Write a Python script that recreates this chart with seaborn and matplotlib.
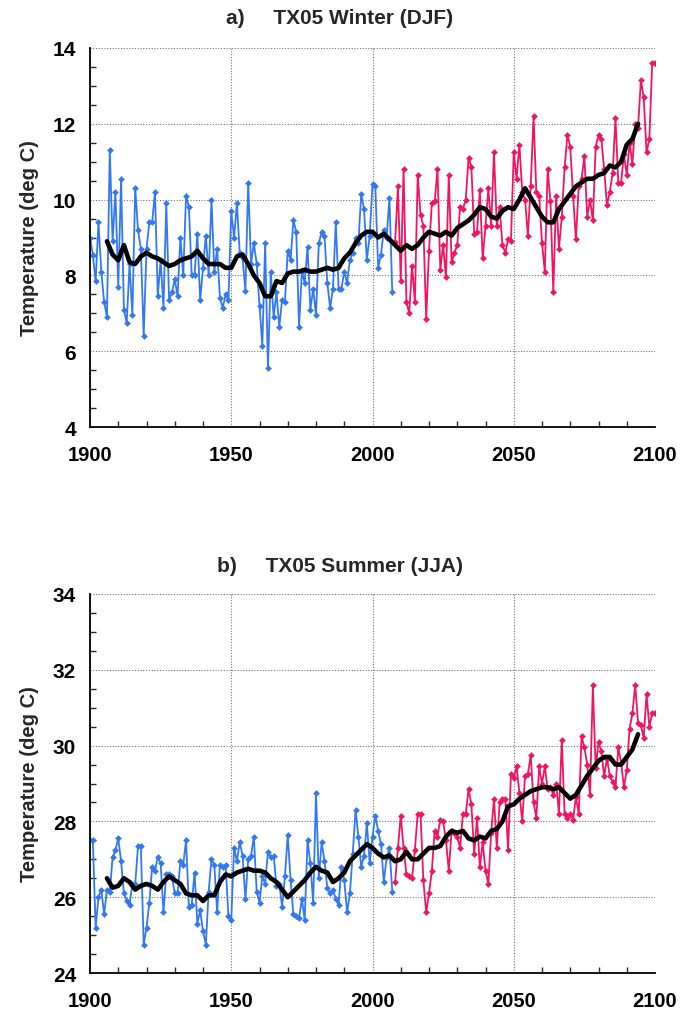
import numpy as np
import pandas as pd
import matplotlib
matplotlib.use("Agg")
import matplotlib.pyplot as plt
import seaborn as sns
from matplotlib.ticker import MultipleLocator

# years
hist_years = np.arange(1900, 2008)
proj_years = np.arange(2008, 2101)
smooth_years = np.arange(1906, 2095, 2)

# a) TX05 winter (DJF), deg C
winter_hist = [
    9.0, 8.55, 7.85, 9.4, 8.1, 7.3, 6.9, 11.3, 8.9, 10.2,
    7.7, 10.55, 7.1, 6.75, 8.3, 6.95, 10.3, 9.2, 8.7, 6.4,
    8.7, 9.4, 9.4, 10.2, 7.45, 8.4, 7.15, 9.9, 7.35, 7.55,
    7.9, 7.45, 9.0, 8.0, 10.1, 9.8, 8.0, 8.0, 9.1, 7.35,
    8.2, 9.05, 8.0, 10.0, 8.1, 8.7, 7.4, 7.15, 7.5, 7.35,
    9.7, 9.0, 9.9, 8.6, 8.45, 7.6, 10.45, 8.3, 8.85, 8.3,
    7.2, 6.15, 8.85, 5.55, 8.1, 6.9, 7.55, 6.65, 7.35, 7.3,
    8.65, 8.4, 9.45, 9.15, 6.65, 8.1, 7.8, 8.75, 7.1, 7.65,
    6.95, 8.85, 9.15, 9.05, 7.8, 7.15, 7.65, 9.4, 7.65, 7.65,
    8.1, 7.8, 8.4, 8.6, 9.0, 8.85, 10.15, 9.75, 8.4, 9.05,
    10.4, 10.35, 8.2, 8.55, 9.2, 9.0, 10.05, 7.55,
]
winter_proj = [
    8.87, 10.35, 7.85, 10.8, 7.3, 7.0, 8.25, 7.3, 10.65, 9.6,
    9.3, 6.85, 8.65, 9.9, 9.95, 10.8, 8.15, 8.8, 7.95, 10.65,
    8.35, 8.6, 8.8, 9.8, 9.75, 10.0, 11.1,
    10.85, 9.1, 9.15, 10.25, 8.45, 9.3, 10.3, 9.3, 11.25, 9.3,
    9.8, 8.8, 8.6, 8.95, 8.9, 11.25, 10.55, 11.45, 10.2, 10.0,
    9.05, 10.35, 12.2, 10.2, 10.1, 8.85, 8.1, 10.8, 9.95, 7.55,
    10.1, 8.7, 9.55, 10.85, 11.7, 11.4, 10.1, 8.95, 10.35, 10.55,
    11.15, 9.55, 10.0, 9.45, 11.4, 11.7, 11.6, 10.8, 9.85, 10.2,
    10.7, 12.15, 10.45, 10.45, 11.2, 10.65, 11.5, 10.95, 12.0, 11.9,
    13.15, 12.7, 11.25, 11.6, 13.6, 13.6,
]
winter_smooth = [
    8.9, 8.55, 8.4, 8.8, 8.35, 8.3, 8.5, 8.6, 8.5, 8.45,
    8.35, 8.25, 8.3, 8.4, 8.45, 8.5, 8.65, 8.45, 8.3, 8.3,
    8.3, 8.2, 8.2, 8.5, 8.55, 8.3, 8.0, 7.8, 7.45, 7.45,
    7.85, 7.8, 8.05, 8.1, 8.1, 8.15, 8.1, 8.1, 8.15, 8.2,
    8.15, 8.2, 8.45, 8.6, 8.85, 9.05, 9.15, 9.15, 9.0, 9.1,
    8.95, 8.8, 8.65, 8.8, 8.7, 8.8, 9.0, 9.15, 9.1, 9.05,
    9.15, 9.05, 9.25, 9.35, 9.45, 9.6, 9.8, 9.75, 9.55, 9.5,
    9.7, 9.8, 9.75, 10.0, 10.3, 10.05, 9.8, 9.55, 9.4, 9.4,
    9.75, 9.95, 10.15, 10.35, 10.45, 10.55, 10.55, 10.65, 10.7, 10.9,
    10.85, 11.0, 11.45, 11.6, 12.0,
]

# b) TX05 summer (JJA), deg C
summer_hist = [
    27.5, 27.5, 25.2, 26.0, 26.2, 25.55, 26.2, 26.15, 27.05, 27.25,
    27.55, 26.95, 26.1, 25.9, 25.8, 26.35, 26.35, 27.35, 27.35, 24.75,
    25.2, 25.85, 26.8, 26.7, 27.05, 26.9, 25.6, 26.6, 26.6, 26.55,
    26.1, 26.1, 26.95, 26.85, 27.5, 25.75, 25.8, 26.65, 25.3, 25.65,
    25.1, 24.75, 26.15, 27.0, 26.85, 25.6, 26.85, 26.8, 26.85, 25.5,
    25.4, 27.3, 26.95, 27.45, 27.1, 25.95, 27.0, 27.1, 27.6, 26.15,
    25.85, 26.55, 26.35, 27.2, 27.05, 27.1, 26.3, 26.35, 25.75,
    26.55, 27.65, 26.45, 25.55, 25.5, 25.45, 25.95, 25.4, 27.5, 26.9,
    25.85, 28.75, 26.5, 27.45, 26.95, 26.25, 26.1, 26.2, 25.95, 25.8,
    26.8, 26.45, 25.6, 26.1, 27.15, 28.3, 27.6, 26.8, 27.1, 27.95,
    26.9, 27.6, 28.15, 27.75, 27.4, 26.4, 27.05, 27.3, 26.15,
]
summer_proj = [
    26.4, 27.3, 28.15, 27.3, 26.6, 26.55, 26.5, 27.25, 28.2, 28.2,
    26.45, 25.6, 26.1, 26.7, 27.75, 27.6, 28.05, 28.0, 27.5, 26.7,
    27.75, 27.7, 27.6, 27.3, 28.2, 28.2, 28.85, 28.45,
    27.15, 28.1, 26.8, 27.45, 26.7, 26.35, 27.7, 28.6, 27.3, 28.5,
    28.6, 28.6, 27.25, 29.25, 29.15, 29.45, 28.75, 28.0, 29.2, 29.25,
    29.75, 28.5, 28.1, 29.45, 29.0, 29.45, 28.85, 28.9, 28.7, 29.0,
    28.2, 30.15, 28.2, 28.1, 28.2, 28.05, 28.65, 28.2, 30.25, 29.95,
    29.5, 28.7, 31.6, 29.4, 30.1, 29.85, 29.2, 29.65, 29.2, 29.05,
    28.9, 29.95, 29.55, 28.9, 29.35, 30.45, 30.85, 31.6, 30.6, 30.55,
    30.2, 31.35, 30.5, 30.85, 30.85,
]
summer_smooth = [
    26.5, 26.25, 26.3, 26.5, 26.4, 26.2, 26.3, 26.35, 26.3, 26.2,
    26.4, 26.55, 26.45, 26.35, 26.1, 26.05, 26.05, 25.9, 26.05, 26.05,
    26.4, 26.6, 26.55, 26.65, 26.7, 26.75, 26.7, 26.7, 26.65, 26.5,
    26.4, 26.2, 26.0, 26.15, 26.3, 26.45, 26.65, 26.8, 26.7, 26.65,
    26.4, 26.5, 26.65, 26.95, 27.1, 27.25, 27.4, 27.3, 27.15, 27.05,
    27.1, 26.95, 27.0, 27.2, 27.0, 27.0, 27.15, 27.3, 27.3, 27.35,
    27.6, 27.75, 27.7, 27.75, 27.55, 27.5, 27.6, 27.55, 27.75, 27.8,
    28.0, 28.4, 28.45, 28.6, 28.7, 28.8, 28.85, 28.9, 28.9, 28.85,
    28.9, 28.75, 28.6, 28.7, 28.95, 29.2, 29.4, 29.6, 29.7, 29.7,
    29.5, 29.5, 29.7, 29.9, 30.3,
]

BLUE = '#3378f0'
PINK = '#f01462'

sns.set_style("white")
plt.rcParams['font.family'] = ['Liberation Sans', 'DejaVu Sans']
plt.rcParams['font.weight'] = 'bold'


def draw_panel(ax, hist_vals, proj_vals, smooth_vals, ylim):
    hist = pd.DataFrame({'year': hist_years, 'temp': hist_vals})
    proj = pd.DataFrame({'year': proj_years, 'temp': proj_vals})
    smooth = pd.DataFrame({'year': smooth_years, 'temp': smooth_vals})

    sns.lineplot(data=hist, x='year', y='temp', ax=ax, color=BLUE, lw=1.3,
                 marker='D', markersize=3, markeredgewidth=0.4, markeredgecolor=BLUE)
    sns.lineplot(data=proj, x='year', y='temp', ax=ax, color=PINK, lw=1.3,
                 marker='D', markersize=3, markeredgewidth=0.4, markeredgecolor=PINK)
    sns.lineplot(data=smooth, x='year', y='temp', ax=ax, color='black', lw=3.3,
                 zorder=5)

    ax.set_xlim(1900, 2100)
    ax.set_ylim(*ylim)
    ax.xaxis.set_major_locator(MultipleLocator(50))
    ax.xaxis.set_minor_locator(MultipleLocator(10))
    ax.yaxis.set_major_locator(MultipleLocator(2))
    ax.yaxis.set_minor_locator(MultipleLocator(0.5))
    ax.grid(True, which='major', ls=(0, (1, 1.5)), color='0.45', lw=0.8)
    ax.tick_params(which='major', direction='in', length=7, width=1.2,
                   colors='black', top=False, right=False)
    ax.tick_params(which='minor', direction='in', length=4, width=1,
                   top=False, right=False, left=True, bottom=True)
    ax.tick_params(axis='x', labelsize=14.5, pad=13)
    ax.tick_params(axis='y', labelsize=15, pad=10)
    for side in ['top', 'right']:
        ax.spines[side].set_visible(False)
    for side in ['left', 'bottom']:
        ax.spines[side].set_color('black')
        ax.spines[side].set_linewidth(1.3)
    ax.set_xlabel('')
    ax.set_ylabel('Temperature (deg C)', fontsize=14.5, fontweight='bold', labelpad=10)


fig = plt.figure(figsize=(6.8, 10.12), dpi=100)
ax_a = fig.add_axes([90 / 680, 1 - 428 / 1012, 565 / 680, 379 / 1012])
ax_b = fig.add_axes([90 / 680, 1 - 974 / 1012, 565 / 680, 379 / 1012])

draw_panel(ax_a, winter_hist, winter_proj, winter_smooth, (4, 14))
draw_panel(ax_b, summer_hist, summer_proj, summer_smooth, (24, 34))

fig.text(340 / 680, 1 - 18 / 1012, 'a)     TX05 Winter (DJF)', ha='center', va='center',
         fontsize=15, fontweight='bold')
fig.text(340 / 680, 1 - 567 / 1012, 'b)     TX05 Summer (JJA)', ha='center', va='center',
         fontsize=15, fontweight='bold')

fig.savefig('out.png', dpi=100)
